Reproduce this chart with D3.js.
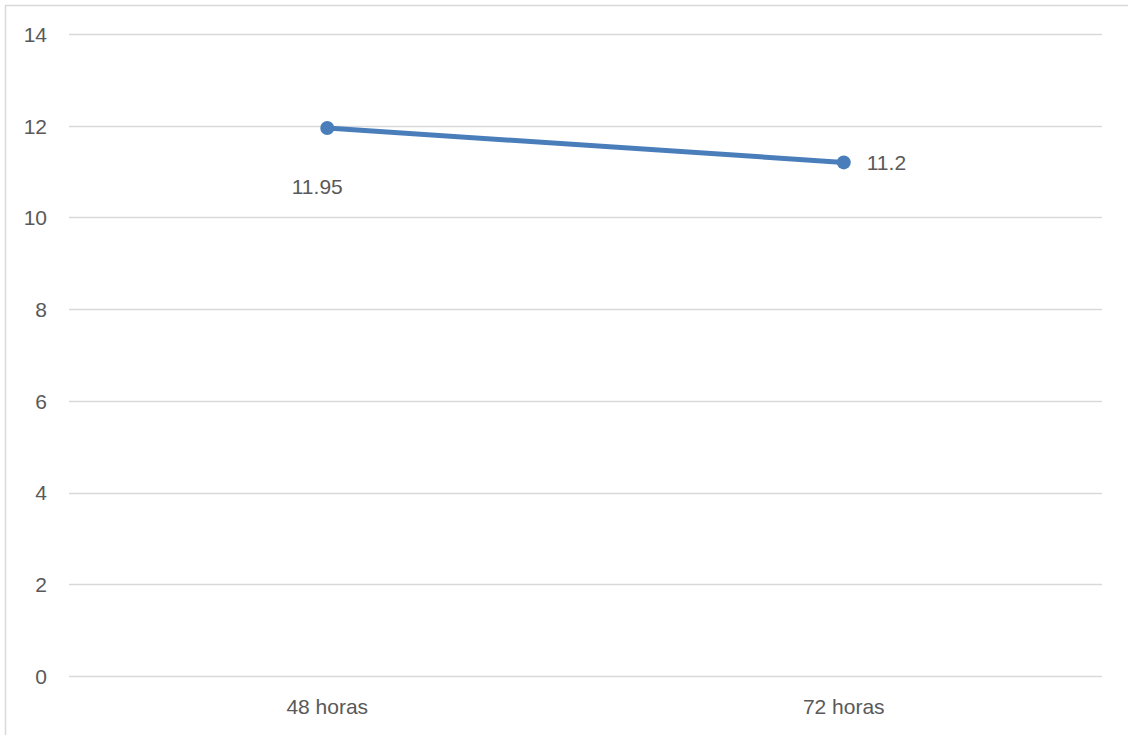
<!DOCTYPE html>
<html>
<head>
<meta charset="utf-8">
<script src="https://cdn.jsdelivr.net/npm/d3@7"></script>
<style>
  html, body { margin: 0; padding: 0; background: #fff; }
  svg { display: block; }
  text { font-family: "Liberation Sans", Arial, sans-serif; fill: #595959; }
</style>
</head>
<body>
<svg id="chart" width="1128" height="735"></svg>
<script>
// Data
const categories = ["48 horas", "72 horas"];
const values = [11.95, 11.2];
const labels = ["11.95", "11.2"];
const yTicks = [0, 2, 4, 6, 8, 10, 12, 14];

const W = 1128, H = 735;
const margin = { left: 69, right: 26, top: 34, bottom: 59 };
const FS = "21px";
const svg = d3.select("#chart");

// Outer chart frame
svg.append("rect")
  .attr("x", 5.5).attr("y", 5.5)
  .attr("width", W + 10).attr("height", H + 10)
  .attr("fill", "none").attr("stroke", "#d9d9d9").attr("stroke-width", 1.5);

const x = d3.scaleBand().domain(categories)
  .range([margin.left, W - margin.right]);
const y = d3.scaleLinear().domain([0, 14])
  .range([H - margin.bottom, margin.top]);

// Horizontal gridlines
svg.append("g").selectAll("line").data(yTicks).join("line")
  .attr("x1", margin.left).attr("x2", W - margin.right)
  .attr("y1", d => Math.round(y(d)) + 0.5).attr("y2", d => Math.round(y(d)) + 0.5)
  .attr("stroke", "#d9d9d9").attr("stroke-width", 1.5);

// Y axis labels
const yAxis = d3.axisLeft(y).tickValues(yTicks).tickSize(0).tickPadding(0);
const gy = svg.append("g").attr("transform", `translate(${47},0)`).call(yAxis);
gy.select(".domain").remove();
gy.selectAll("text").style("font-size", FS).attr("fill", "#595959")
  .attr("font-family", "Liberation Sans, Arial, sans-serif").attr("dy", "0.35em");

// X axis labels
const xAxis = d3.axisBottom(x).tickSize(0).tickPadding(0);
const gx = svg.append("g").attr("transform", `translate(0,${H - margin.bottom + 23})`).call(xAxis);
gx.select(".domain").remove();
gx.selectAll("text").style("font-size", FS).attr("fill", "#595959")
  .attr("font-family", "Liberation Sans, Arial, sans-serif");

const cx = d => x(d) + x.bandwidth() / 2;
const pts = categories.map((c, i) => ({ c, v: values[i], label: labels[i] }));

// Series line
svg.append("path").datum(pts)
  .attr("fill", "none").attr("stroke", "#4a7ebb").attr("stroke-width", 5)
  .attr("stroke-linecap", "round")
  .attr("d", d3.line().x(d => cx(d.c)).y(d => y(d.v)));

// Markers
svg.append("g").selectAll("circle").data(pts).join("circle")
  .attr("cx", d => cx(d.c)).attr("cy", d => y(d.v)).attr("r", 7)
  .attr("fill", "#4a7ebb");

// Data labels: first below the point, second to the right
svg.append("text").datum(pts[0])
  .attr("x", d => cx(d.c) - 10).attr("y", d => y(d.v) + 66)
  .attr("text-anchor", "middle").style("font-size", FS)
  .text(d => d.label);
svg.append("text").datum(pts[1])
  .attr("x", d => cx(d.c) + 23).attr("y", d => y(d.v) + 8)
  .attr("text-anchor", "start").style("font-size", FS)
  .text(d => d.label);
</script>
</body>
</html>
